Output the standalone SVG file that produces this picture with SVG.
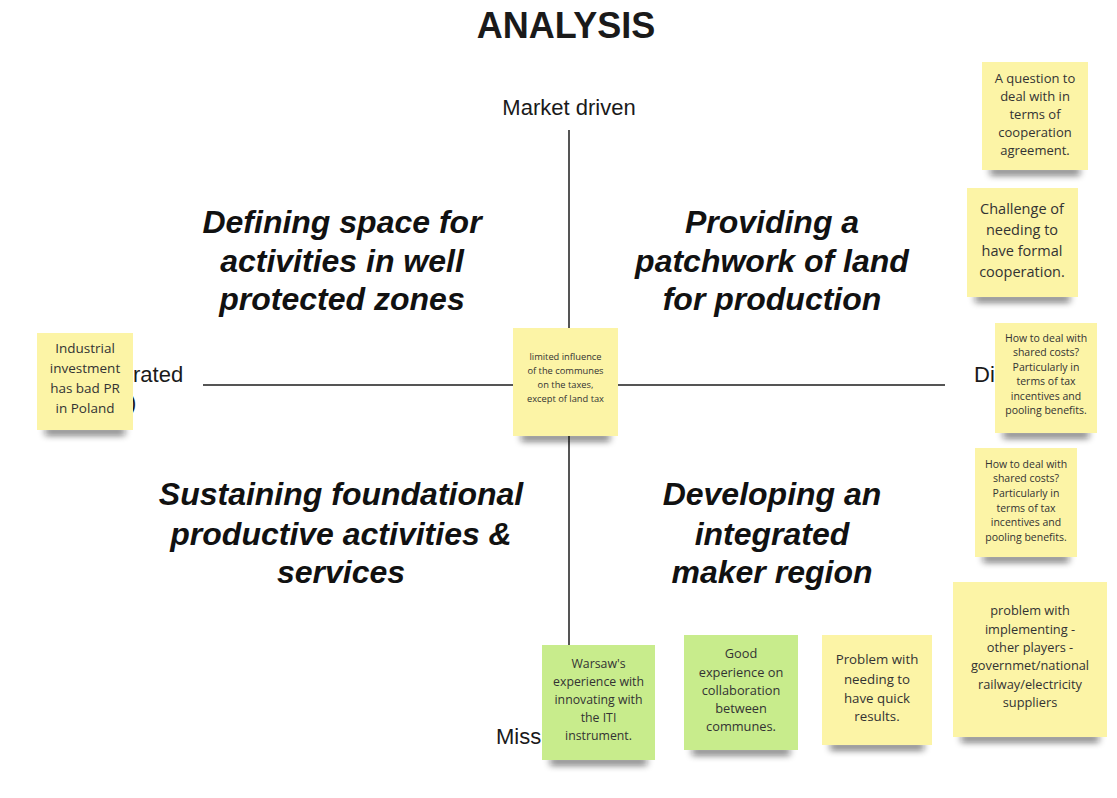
<svg xmlns="http://www.w3.org/2000/svg" width="1117" height="798" viewBox="0 0 1117 798">
<style>
.title{font-family:"Liberation Sans",Arial,sans-serif;font-weight:bold;font-size:36px;fill:#1a1a1a;text-anchor:middle}
.axis{font-family:"Liberation Sans",Arial,sans-serif;font-size:22px;fill:#1a1a1a}
.quad{font-family:"Liberation Sans",Arial,sans-serif;font-weight:bold;font-style:italic;font-size:32px;fill:#111;text-anchor:middle}
.note{font-family:"Open Sans","Noto Sans",sans-serif;fill:#333;text-anchor:middle}
.y{fill:#fcf4a6}
.g{fill:#c8ec8c}
.ax{stroke:#555;stroke-width:2;fill:none}
.sh{fill:#111;opacity:0.6}
</style>
<defs>
<filter id="sh" x="-20%" y="-300%" width="140%" height="700%">
<feGaussianBlur stdDeviation="3.5"/>
</filter>
</defs>
<rect width="1117" height="798" fill="#ffffff"/>
<text class="title" x="566" y="38">ANALYSIS</text>
<text class="axis" x="569" y="115" text-anchor="middle">Market driven</text>
<g id="connectors">
<line class="ax" x1="569" y1="130" x2="569" y2="650"/>
<line class="ax" x1="203" y1="385" x2="945" y2="385"/>
</g>
<text class="axis" x="133" y="382">rated</text>
<text class="axis" x="129" y="410">)</text>
<text class="axis" x="974" y="382">Di</text>
<text class="axis" x="496" y="744">Miss</text>
<g id="q1"><text class="quad" x="342" y="233">Defining space for</text><text class="quad" x="342" y="272">activities in well</text><text class="quad" x="342" y="310">protected zones</text></g>
<g id="q2"><text class="quad" x="772" y="233">Providing a</text><text class="quad" x="772" y="272">patchwork of land</text><text class="quad" x="772" y="310">for production</text></g>
<g id="q3"><text class="quad" x="341" y="505">Sustaining foundational</text><text class="quad" x="341" y="545">productive activities &amp;</text><text class="quad" x="341" y="583">services</text></g>
<g id="q4"><text class="quad" x="772" y="505">Developing an</text><text class="quad" x="772" y="545">integrated</text><text class="quad" x="772" y="583">maker region</text></g>

<g id="n1">
<rect class="sh" x="990" y="168" width="90" height="7" filter="url(#sh)"/>
<rect class="y" x="982" y="62" width="106" height="108"/>
<text class="note" font-size="13"><tspan x="1035" y="83">A question to</tspan><tspan x="1035" y="101">deal with in</tspan><tspan x="1035" y="119">terms of</tspan><tspan x="1035" y="137">cooperation</tspan><tspan x="1035" y="155">agreement.</tspan></text>
</g>
<g id="n2">
<rect class="sh" x="975" y="295" width="95" height="7" filter="url(#sh)"/>
<rect class="y" x="967" y="188" width="111" height="109"/>
<text class="note" font-size="14.5"><tspan x="1022" y="214">Challenge of</tspan><tspan x="1022" y="235">needing to</tspan><tspan x="1022" y="256">have formal</tspan><tspan x="1022" y="277">cooperation.</tspan></text>
</g>
<g id="n3">
<rect class="sh" x="1003" y="431" width="86" height="7" filter="url(#sh)"/>
<rect class="y" x="995" y="323" width="102" height="110"/>
<text class="note" font-size="10.5"><tspan x="1046" y="342">How to deal with</tspan><tspan x="1046" y="356">shared costs?</tspan><tspan x="1046" y="371">Particularly in</tspan><tspan x="1046" y="385">terms of tax</tspan><tspan x="1046" y="400">incentives and</tspan><tspan x="1046" y="414">pooling benefits.</tspan></text>
</g>
<g id="n4">
<rect class="sh" x="983" y="555" width="86" height="7" filter="url(#sh)"/>
<rect class="y" x="975" y="448" width="102" height="109"/>
<text class="note" font-size="10.5"><tspan x="1026" y="468">How to deal with</tspan><tspan x="1026" y="482">shared costs?</tspan><tspan x="1026" y="497">Particularly in</tspan><tspan x="1026" y="512">terms of tax</tspan><tspan x="1026" y="526">incentives and</tspan><tspan x="1026" y="541">pooling benefits.</tspan></text>
</g>
<g id="n5">
<rect class="sh" x="45" y="428" width="80" height="7" filter="url(#sh)"/>
<rect class="y" x="37" y="333" width="96" height="97"/>
<text class="note" font-size="13.5"><tspan x="85" y="353">Industrial</tspan><tspan x="85" y="373">investment</tspan><tspan x="85" y="393">has bad PR</tspan><tspan x="85" y="413">in Poland</tspan></text>
</g>
<g id="n6">
<rect class="sh" x="521" y="434" width="89" height="7" filter="url(#sh)"/>
<rect class="y" x="513" y="328" width="105" height="108"/>
<text class="note" font-size="9.3"><tspan x="565.5" y="360">limited influence</tspan><tspan x="565.5" y="374">of the communes</tspan><tspan x="565.5" y="388">on the taxes,</tspan><tspan x="565.5" y="402">except of land tax</tspan></text>
</g>
<g id="n7">
<rect class="sh" x="550" y="758" width="97" height="7" filter="url(#sh)"/>
<rect class="g" x="542" y="645" width="113" height="115"/>
<text class="note" font-size="12.3"><tspan x="598.5" y="668">Warsaw's</tspan><tspan x="598.5" y="686">experience with</tspan><tspan x="598.5" y="704">innovating with</tspan><tspan x="598.5" y="722">the ITI</tspan><tspan x="598.5" y="740">instrument.</tspan></text>
</g>
<g id="n8">
<rect class="sh" x="692" y="748" width="98" height="7" filter="url(#sh)"/>
<rect class="g" x="684" y="635" width="114" height="115"/>
<text class="note" font-size="12.8"><tspan x="741" y="658">Good</tspan><tspan x="741" y="677">experience on</tspan><tspan x="741" y="695">collaboration</tspan><tspan x="741" y="713">between</tspan><tspan x="741" y="731">communes.</tspan></text>
</g>
<g id="n9">
<rect class="sh" x="830" y="743" width="94" height="7" filter="url(#sh)"/>
<rect class="y" x="822" y="635" width="110" height="110"/>
<text class="note" font-size="13.3"><tspan x="877" y="664">Problem with</tspan><tspan x="877" y="684">needing to</tspan><tspan x="877" y="703">have quick</tspan><tspan x="877" y="721">results.</tspan></text>
</g>
<g id="n10">
<rect class="sh" x="961" y="735" width="138" height="7" filter="url(#sh)"/>
<rect class="y" x="953" y="582" width="154" height="155"/>
<text class="note" font-size="12.8"><tspan x="1030" y="615">problem with</tspan><tspan x="1030" y="634">implementing -</tspan><tspan x="1030" y="652">other players -</tspan><tspan x="1030" y="670">governmet/national</tspan><tspan x="1030" y="689">railway/electricity</tspan><tspan x="1030" y="707">suppliers</tspan></text>
</g>
</svg>
